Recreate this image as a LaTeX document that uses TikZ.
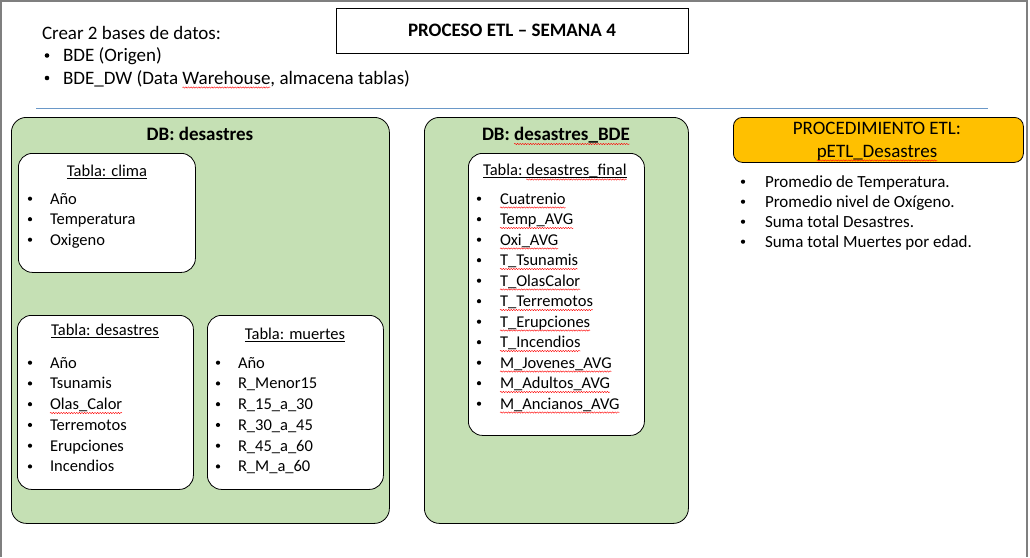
\documentclass[tikz,border=0pt]{standalone}
\usepackage{fontspec}
\setmainfont{Carlito}
\usetikzlibrary{decorations.pathmorphing}
\definecolor{grn}{HTML}{C5E0B4}
\definecolor{ylw}{HTML}{FFC000}
\definecolor{bline}{HTML}{6A98C8}
\definecolor{frm}{HTML}{7F7F7F}
\newcommand\fsHdr{\fontsize{19}{23}\selectfont}
\newcommand\fsItm{\fontsize{16.5}{20}\selectfont}
\newcommand\fsRgt{\fontsize{17}{20}\selectfont}
\begin{document}
\begin{tikzpicture}[x=1pt,y=-1pt,
  txt/.style={inner sep=0pt, outer sep=0pt, anchor=base west},
  ctxt/.style={inner sep=0pt, outer sep=0pt, anchor=base},
  itm/.style={txt, font=\fsItm},
  bul/.style={circle, fill=black, inner sep=0pt, outer sep=0pt, minimum size=4.2pt, yshift=5.3pt},
  hbul/.style={circle, fill=black, inner sep=0pt, outer sep=0pt, minimum size=4.6pt, yshift=6pt},
  greenbox/.style={draw=black, fill=grn, line width=0.8pt, rounded corners=15pt, anchor=north west, inner sep=0pt},
  tblbox/.style={draw=black, fill=white, line width=0.8pt, rounded corners=14pt, anchor=north west, inner sep=0pt},
  squig/.style={draw=red, line width=0.4pt, decorate, decoration={snake, amplitude=0.7pt, segment length=2.6pt}},
  uline/.style={draw=black, line width=0.7pt}]
\useasboundingbox (0,0) rectangle (1030,557);
\fill[white] (0,0) rectangle (1030,557);
% frame
\draw[frm, line width=2pt] (1,557) -- (1,1) -- (1027,1) -- (1027,557);
% title
\node[draw=black, line width=0.9pt, minimum width=352pt, minimum height=45pt, inner sep=0pt, font=\bfseries\fsHdr] (ttl) at (512,30.5) {PROCESO ETL – SEMANA 4};
% header text
\node[txt, font=\fsHdr] (h0) at (42,39) {Crear 2 bases de datos:};
\node[hbul] (hb1) at (47,61.5) {};
\node[txt, font=\fsHdr] (h1) at (63,61.5) {BDE (Origen)};
\node[hbul] (hb2) at (47,84) {};
\node[txt, font=\fsHdr] (h2a) at (63,84) {BDE\_DW (Data};
\node[txt, font=\fsHdr, xshift=4.3pt] (h2b) at (h2a.base east) {Warehouse};
\node[txt, font=\fsHdr] (h2c) at (h2b.base east) {, almacena tablas)};
\draw[squig] ([yshift=-3.5pt]h2b.base west) -- ([yshift=-3.5pt]h2b.base east);
% separator
\coordinate (ls) at (36,108);
\coordinate (le) at (988,108);
\draw[bline, line width=1pt] (ls) -- (le);
% DB desastres
\node[greenbox, minimum width=378pt, minimum height=406pt] (db1) at (11,117) {};
\node[ctxt, font=\bfseries\fsHdr] (db1t) at (200,140) {DB: desastres};
% Tabla clima
\node[tblbox, minimum width=177pt, minimum height=119pt] (tclima) at (18,153) {};
\node[ctxt, font=\fsItm] (tclimat) at (107,176) {Tabla: clima};
\draw[uline] ([yshift=-2pt]tclimat.base west) -- ([yshift=-2pt]tclimat.base east);
\foreach \t [count=\i from 0] in {Año,Temperatura,Oxigeno} {
  \node[bul] (cb\i) at (30,204+20.5*\i) {};
  \node[itm] (ci\i) at (50,204+20.5*\i) {\t};
}
% Tabla desastres
\node[tblbox, minimum width=176pt, minimum height=174pt] (tdes) at (17,315) {};
\node[ctxt, font=\fsItm] (tdest) at (105,335) {Tabla: desastres};
\draw[uline] ([yshift=-2pt]tdest.base west) -- ([yshift=-2pt]tdest.base east);
\foreach \t [count=\i from 0] in {Año,Tsunamis,Olas\_Calor,Terremotos,Erupciones,Incendios} {
  \node[bul] (db\i) at (30,368+20.75*\i) {};
  \node[itm] (di\i) at (50,368+20.75*\i) {\t};
}
\draw[squig] ([yshift=-3.5pt]di2.base west) -- ([yshift=-3.5pt]di2.base east);
% Tabla muertes
\node[tblbox, minimum width=176pt, minimum height=174pt] (tmue) at (207,315) {};
\node[ctxt, font=\fsItm] (tmuet) at (295,339) {Tabla: muertes};
\draw[uline] ([yshift=-2pt]tmuet.base west) -- ([yshift=-2pt]tmuet.base east);
\foreach \t [count=\i from 0] in {Año,R\_Menor15,R\_15\_a\_30,R\_30\_a\_45,R\_45\_a\_60,R\_M\_a\_60} {
  \node[bul] (mb\i) at (218,368+20.75*\i) {};
  \node[itm] (mi\i) at (238,368+20.75*\i) {\t};
}
% DB desastres_BDE
\node[greenbox, minimum width=264pt, minimum height=406pt] (db2) at (424,117) {};
\node[txt, font=\bfseries\fsHdr] (db2a) at (482,140) {DB:};
\node[txt, font=\bfseries\fsHdr, xshift=4.3pt] (db2b) at (db2a.base east) {desastres\_BDE};
\draw[squig] ([yshift=-4pt]db2b.base west) -- ([yshift=-4pt]db2b.base east);
% Tabla desastres_final
\node[tblbox, minimum width=176pt, minimum height=282pt] (tfin) at (468,153) {};
\node[txt, font=\fsItm] (tfa) at (483,175) {Tabla:};
\node[txt, font=\fsItm, xshift=3.7pt] (tfb) at (tfa.base east) {desastres\_final};
\draw[uline] ([yshift=-2pt]tfa.base west) -- ([yshift=-2pt]tfb.base east);
\draw[squig] ([yshift=-4.5pt]tfb.base west) -- ([yshift=-4.5pt]tfb.base east);
\foreach \t [count=\i from 0] in {Cuatrenio,Temp\_AVG,Oxi\_AVG,T\_Tsunamis,T\_OlasCalor,T\_Terremotos,T\_Erupciones,T\_Incendios,M\_Jovenes\_AVG,M\_Adultos\_AVG,M\_Ancianos\_AVG} {
  \node[bul] (fb\i) at (479,204+20.5*\i) {};
  \node[itm] (fi\i) at (500,204+20.5*\i) {\t};
  \draw[squig] ([yshift=-3.5pt]fi\i.base west) -- ([yshift=-3.5pt]fi\i.base east);
}
% Procedimiento
\node[draw=black, fill=ylw, rounded corners=9pt, line width=0.8pt, minimum width=290pt, minimum height=45pt, anchor=north west, inner sep=0pt] (proc) at (733,117) {};
\node[ctxt, font=\fsHdr] (p1) at (877,134) {PROCEDIMIENTO ETL:};
\node[ctxt, font=\fsHdr] (p2) at (877,157) {pETL\_Desastres};
\draw[squig] ([yshift=-3.5pt]p2.base west) -- ([yshift=-3.5pt]p2.base east);
\foreach \t [count=\i from 0] in {Promedio de Temperatura.,Promedio nivel de Oxígeno.,Suma total Desastres.,Suma total Muertes por edad.} {
  \node[bul] (rb\i) at (743,187+20*\i) {};
  \node[txt, font=\fsRgt] (ri\i) at (765,187+20*\i) {\t};
}
\end{tikzpicture}
\end{document}
